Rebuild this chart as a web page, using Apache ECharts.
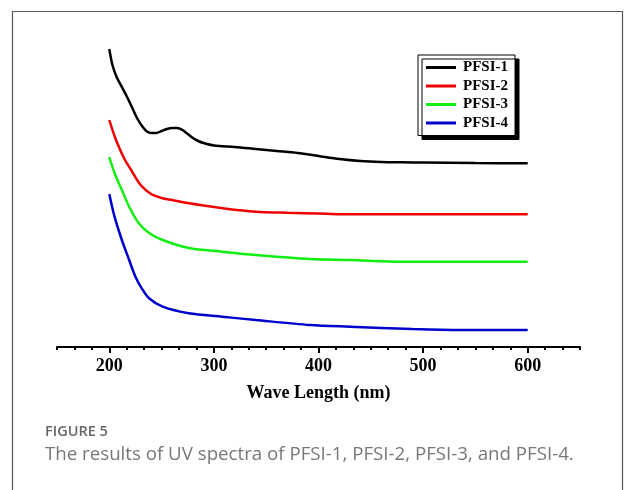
<!DOCTYPE html>
<html><head><meta charset="utf-8">
<script src="https://cdn.jsdelivr.net/npm/echarts@6/dist/echarts.min.js"></script>
<style>html,body{margin:0;padding:0;background:#fff}#c{width:625px;height:490px}</style>
</head><body><div id="c"></div>
<script>
const seriesNames = ['PFSI-1','PFSI-2','PFSI-3','PFSI-4'];
const majorTicks = [200,300,400,500,600];
const pfsi1 = [[200,2.98],[203,2.82],[207,2.70],[212,2.60],[217,2.50],[222,2.39],[227,2.28],[232,2.20],[236,2.155],[240,2.14],[245,2.14],[250,2.16],[255,2.18],[260,2.19],[265,2.19],[270,2.17],[275,2.13],[280,2.09],[285,2.06],[290,2.04],[300,2.015],[320,2.00],[340,1.98],[360,1.96],[380,1.94],[400,1.91],[420,1.88],[440,1.86],[460,1.85],[480,1.847],[500,1.845],[550,1.84],[600,1.837]];
const pfsi2 = [[200,2.27],[205,2.11],[210,1.98],[215,1.87],[220,1.785],[230,1.62],[240,1.53],[250,1.49],[260,1.47],[275,1.44],[290,1.415],[310,1.385],[340,1.353],[370,1.342],[400,1.335],[420,1.327],[500,1.327],[600,1.327]];
const pfsi3 = [[200,1.90],[205,1.74],[212,1.57],[219,1.403],[228,1.24],[238,1.14],[251,1.07],[276,0.99],[308,0.953],[340,0.92],[392,0.88],[430,0.87],[480,0.853],[600,0.853]];
const pfsi4 = [[200,1.53],[205,1.303],[212,1.07],[219,0.87],[225,0.703],[231,0.587],[238,0.487],[251,0.403],[276,0.337],[308,0.303],[340,0.27],[392,0.22],[430,0.203],[490,0.18],[536,0.17],[600,0.17]];
const colors = ['#000000','#ee0000','#11ee11','#0000cc'];
const allData = [pfsi1,pfsi2,pfsi3,pfsi4];

const chart = echarts.init(document.getElementById('c'), null, {renderer:'canvas'});
const serif = '"Liberation Serif","Times New Roman",serif';
chart.setOption({
  animation:false,
  backgroundColor:'#fff',
  grid:{left:57,right:45,top:40,bottom:143},
  xAxis:[{
    type:'value',min:150,max:650,position:'bottom',
    axisLine:{show:true,lineStyle:{color:'#000',width:2}},
    axisTick:{show:true,customValues:majorTicks,length:6,lineStyle:{color:'#000',width:2}},
    axisLabel:{customValues:majorTicks,margin:10,fontFamily:serif,fontWeight:'bold',fontSize:18,color:'#000'},
    splitLine:{show:false},
    name:'Wave Length (nm)',nameLocation:'middle',nameGap:37,
    nameTextStyle:{fontFamily:serif,fontWeight:'bold',fontSize:18,color:'#000'}
  },{
    type:'value',min:150,max:650,interval:50/3,position:'bottom',
    axisLine:{show:false},
    axisTick:{show:true,length:3,lineStyle:{color:'#000',width:2}},
    axisLabel:{show:false},splitLine:{show:false}
  }],
  yAxis:{type:'value',min:0,max:3.07,show:false},
  legend:{
    orient:'vertical',left:418,top:55,
    data:seriesNames.map(n=>({name:n,icon:'rect'})),
    itemWidth:30,itemHeight:3,itemGap:3.5,
    padding:[5,7,5,8],
    backgroundColor:'#fff',borderColor:'#000',borderWidth:1,
    shadowColor:'#000',shadowBlur:0,shadowOffsetX:4,shadowOffsetY:4,
    textStyle:{fontFamily:serif,fontWeight:'bold',fontSize:15,color:'#000',padding:[0,0,0,2]}
  },
  graphic:[
    {type:'rect',shape:{x:12.5,y:11.5,width:610,height:500},style:{fill:'none',stroke:'#555',lineWidth:1.2},silent:true},
    {type:'text',left:45,top:424,style:{text:'FIGURE 5',font:'600 14.5px "Open Sans",sans-serif',fill:'#666'}},
    {type:'text',left:45,top:445,style:{text:'The results of UV spectra of PFSI-1, PFSI-2, PFSI-3, and PFSI-4.',font:'18.7px "Open Sans",sans-serif',fill:'#777'}}
  ],
  series: allData.map((d,i)=>({
    name:seriesNames[i],type:'line',data:d,smooth:0.3,showSymbol:false,symbol:'none',
    lineStyle:{color:colors[i],width:2.5},itemStyle:{color:colors[i]},xAxisIndex:0
  }))
});
</script></body></html>
